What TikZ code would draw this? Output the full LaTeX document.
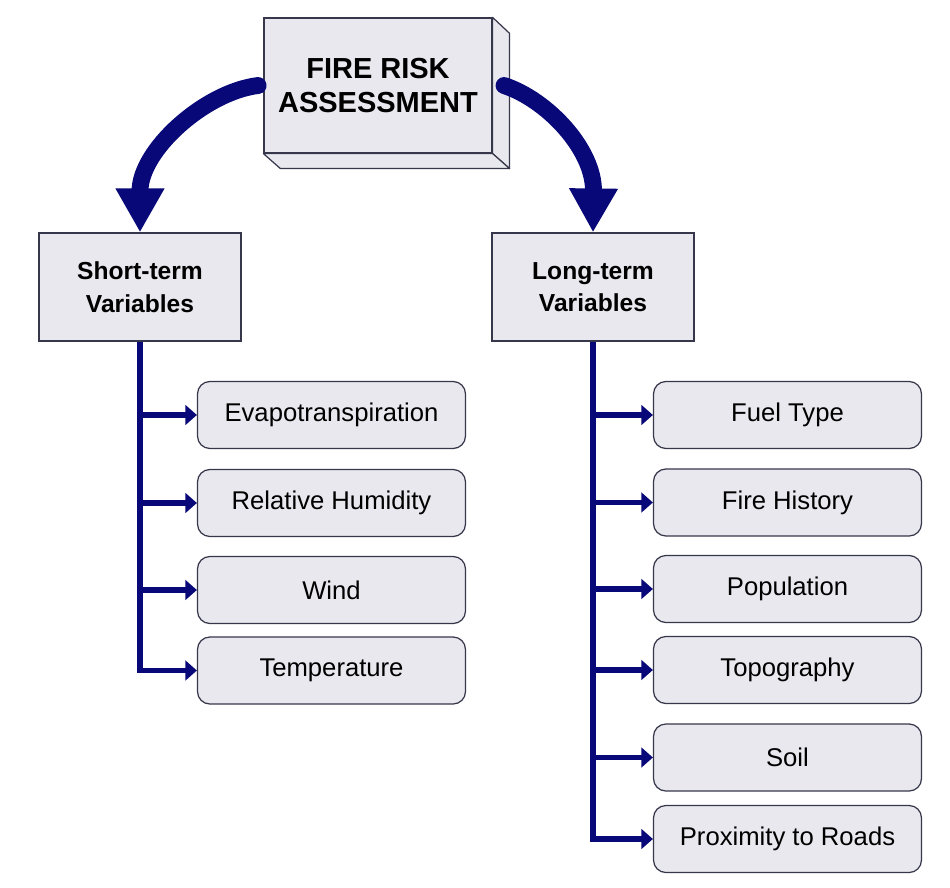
\documentclass[tikz,border=0pt]{standalone}
\usepackage{fontspec}
\setmainfont{Liberation Sans}
\usetikzlibrary{arrows.meta,calc}
\definecolor{navyc}{RGB}{8,8,120}
\definecolor{boxfill}{RGB}{232,232,238}
\definecolor{boxline}{RGB}{55,55,75}
\tikzset{
  headbox/.style={draw=boxline, line width=0.7pt, fill=boxfill, minimum width=4.04cm, minimum height=2.16cm,
    align=center, font=\fontsize{14}{18.5}\selectfont\bfseries, inner sep=0pt},
  childbox/.style={draw=boxline, line width=0.7pt, fill=boxfill, rounded corners=7pt, minimum width=5.36cm,
    minimum height=1.34cm, align=center, font=\fontsize{14.6}{17}\selectfont, inner sep=0pt},
  topbox/.style={draw=boxline, line width=0.7pt, fill=boxfill, minimum width=4.56cm, minimum height=2.7cm,
    align=center, font=\fontsize{16.5}{19.8}\selectfont\bfseries, inner sep=0pt},
  face/.style={draw=boxline, line width=0.7pt, fill=boxfill, line join=round},
  conn/.style={draw=navyc, line width=3.2pt, line join=miter, -{Triangle[length=6.5pt,width=11pt]}},
  bigarrow/.style={draw=navyc, line width=9.6pt, line cap=round, -{Triangle[length=25pt,width=26pt]}},
}
\begin{document}
\begin{tikzpicture}[x=0.02cm,y=-0.02cm]
\useasboundingbox (0,0) rectangle (950,888);
% top box
\node[topbox] (top) at (378,85.5) {FIRE RISK\\ASSESSMENT};
\path[face] (top.north east) -- ++(17,16) -- ($(top.south east)+(17,15)$) -- (top.south east) -- cycle;
\path[face] (top.south west) -- ++(17,15) -- ($(top.south east)+(17,15)$) -- (top.south east) -- cycle;
% headers
\node[headbox] (st) at (140,287) {Short-term\\Variables};
\node[headbox] (lt) at (593,287) {Long-term\\Variables};
% left children
\node[childbox] (c1) at (331.5,415) {Evapotranspiration};
\node[childbox] (c2) at (331.5,503) {Relative Humidity};
\node[childbox] (c3) at (331.5,590) {Wind};
\node[childbox] (c4) at (331.5,670.5) {Temperature};
% right children
\node[childbox] (r1) at (787.5,415) {Fuel Type};
\node[childbox] (r2) at (787.5,502.5) {Fire History};
\node[childbox] (r3) at (787.5,589) {Population};
\node[childbox] (r4) at (787.5,670) {Topography};
\node[childbox] (r5) at (787.5,757.5) {Soil};
\node[childbox] (r6) at (787.5,839) {Proximity to Roads};
% big arrows
\draw[bigarrow] ([xshift=-3pt]top.west) .. controls (205,92) and (140,150) .. (st.north);
\draw[bigarrow] ([xshift=6.5pt]top.east) .. controls (548,100) and (594,150) .. (st.north -| lt.north);
% left connectors
\draw[conn] (st.south) |- (c4.west);
\draw[conn] (st.south |- c1.west) -- (c1.west);
\draw[conn] (st.south |- c2.west) -- (c2.west);
\draw[conn] (st.south |- c3.west) -- (c3.west);
% right connectors
\draw[conn] (lt.south) |- (r6.west);
\draw[conn] (lt.south |- r1.west) -- (r1.west);
\draw[conn] (lt.south |- r2.west) -- (r2.west);
\draw[conn] (lt.south |- r3.west) -- (r3.west);
\draw[conn] (lt.south |- r4.west) -- (r4.west);
\draw[conn] (lt.south |- r5.west) -- (r5.west);
\end{tikzpicture}
\end{document}
